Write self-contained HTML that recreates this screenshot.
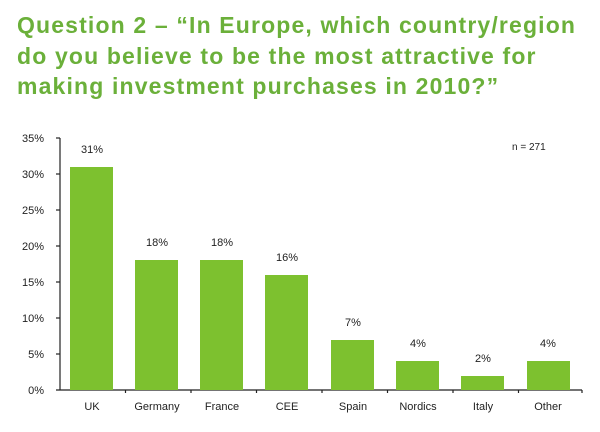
<!DOCTYPE html>
<html><head><meta charset="utf-8"><style>
body{margin:0;background:#fff;width:600px;height:432px;overflow:hidden}
.t{position:absolute;left:17px;top:10px;font-family:"Liberation Sans",sans-serif;font-weight:bold;font-size:23px;line-height:30.5px;color:#6bb03a;letter-spacing:1.15px;white-space:nowrap}
</style></head><body>
<div class="t">Question 2 – “In Europe, which country/region<br>do you believe to be the most attractive for<br>making investment purchases in 2010?”</div>
<svg width="600" height="432" style="position:absolute;left:0;top:0" font-family="Liberation Sans, sans-serif" font-size="11" fill="#222">
<g stroke="#222" stroke-width="1.2">
<line x1="60" y1="138" x2="60" y2="390"/>
<line x1="56" y1="390" x2="582" y2="390"/>
<line x1="56" y1="138" x2="60" y2="138"/><line x1="56" y1="174" x2="60" y2="174"/><line x1="56" y1="210" x2="60" y2="210"/><line x1="56" y1="246" x2="60" y2="246"/><line x1="56" y1="282" x2="60" y2="282"/><line x1="56" y1="318" x2="60" y2="318"/><line x1="56" y1="354" x2="60" y2="354"/>
<line x1="125.5" y1="390" x2="125.5" y2="393"/><line x1="191" y1="390" x2="191" y2="393"/><line x1="256.5" y1="390" x2="256.5" y2="393"/><line x1="322" y1="390" x2="322" y2="393"/><line x1="387.5" y1="390" x2="387.5" y2="393"/><line x1="453" y1="390" x2="453" y2="393"/><line x1="518.5" y1="390" x2="518.5" y2="393"/><line x1="582" y1="390" x2="582" y2="393"/>
</g>
<g text-anchor="end">
<text x="44" y="142">35%</text><text x="44" y="178">30%</text><text x="44" y="214">25%</text><text x="44" y="250">20%</text><text x="44" y="286">15%</text><text x="44" y="322">10%</text><text x="44" y="358">5%</text><text x="44" y="394">0%</text>
</g>
<g fill="#7dc12f">
<rect x="70" y="167" width="43" height="223"/>
<rect x="135" y="260" width="43" height="130"/>
<rect x="200" y="260" width="43" height="130"/>
<rect x="265" y="275" width="43" height="115"/>
<rect x="331" y="340" width="43" height="50"/>
<rect x="396" y="361" width="43" height="29"/>
<rect x="461" y="376" width="43" height="14"/>
<rect x="527" y="361" width="43" height="29"/>
</g>
<g text-anchor="middle">
<text x="92" y="153">31%</text><text x="157" y="246">18%</text><text x="222" y="246">18%</text><text x="287" y="261">16%</text><text x="353" y="326">7%</text><text x="418" y="347">4%</text><text x="483" y="362">2%</text><text x="548" y="347">4%</text>
<text x="92" y="410">UK</text><text x="157" y="410">Germany</text><text x="222" y="410">France</text><text x="287" y="410">CEE</text><text x="353" y="410">Spain</text><text x="418" y="410">Nordics</text><text x="483" y="410">Italy</text><text x="548" y="410">Other</text>
</g>
<text x="512" y="150" font-size="10">n = 271</text>
</svg>
</body></html>
